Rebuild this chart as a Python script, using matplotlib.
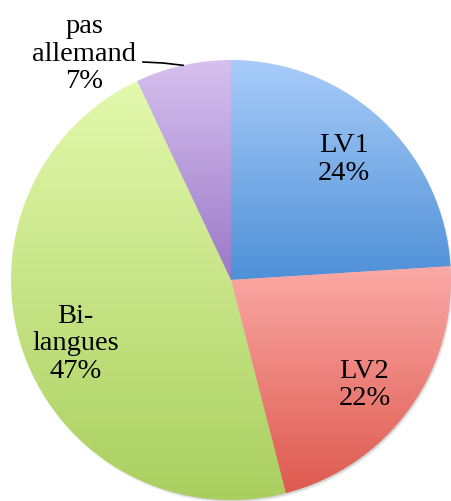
import numpy as np
import matplotlib.pyplot as plt
from matplotlib.colors import to_rgb
from matplotlib.patches import Circle

# data
categories = ['LV1', 'LV2', 'Bi-\nlangues', 'pas\nallemand']
values = [24, 22, 47, 7]
top_colors = ['#a8ccf9', '#fba9a6', '#e3f9ad', '#d7c1ef']
bottom_colors = ['#4f90d7', '#de5a4f', '#aacf5f', '#9a78c7']

W, H = 451, 501
cx, cy, R = 231, H - 280, 220
FS = 20.5

plt.rcParams['font.family'] = ['Liberation Serif', 'DejaVu Serif']

fig = plt.figure(figsize=(W / 100, H / 100), dpi=100)
ax = fig.add_axes([0, 0, 1, 1])

# soft shadow under the pie
for i in range(6):
    ax.add_patch(Circle((cx + 2, cy - 3), R - i * 0.6, color='black',
                        alpha=0.035, lw=0, zorder=0))

labels = [f'{c}\n{v}%' for c, v in zip(categories, values)]
wedges, texts = ax.pie(values, labels=labels[:3] + [''], startangle=90,
                       counterclock=False, center=(cx, cy), radius=R,
                       labeldistance=0.75, frame=True,
                       wedgeprops=dict(lw=0),
                       textprops=dict(fontsize=FS, ha='center', va='center',
                                      linespacing=1.15))
for t in texts:
    t.set_ha('center')
    t.set_multialignment('center')
    t.set_zorder(3)

# labels of the lower slices sit a bit lower in the original
for t in texts[1:3]:
    x, y = t.get_position()
    t.set_position((x, y - 8))

# vertical gradient per slice
for w, c_top, c_bot in zip(wedges, top_colors, bottom_colors):
    ext = w.get_path().get_extents()
    n = 256
    t = np.linspace(0, 1, n)[:, None]
    grad = (1 - t) * np.array(to_rgb(c_bot)) + t * np.array(to_rgb(c_top))
    img = ax.imshow(grad[:, None, :], extent=(ext.x0, ext.x1, ext.y0, ext.y1),
                    origin='lower', aspect='auto', zorder=1, interpolation='bilinear')
    img.set_clip_path(w)
    w.set_facecolor('none')

# outside label for the small slice with a leader line
w = wedges[3]
mid = np.deg2rad((w.theta1 + w.theta2) / 2)
ex, ey = cx + R * np.cos(mid), cy + R * np.sin(mid)
ax.text(84, H - 54, labels[3], fontsize=FS, ha='center', va='center',
        multialignment='center', linespacing=1.15, zorder=3)
ax.plot([143, 163, ex], [H - 62, H - 63, ey], color='black', lw=1.2, zorder=3)

ax.set_xlim(0, W)
ax.set_ylim(0, H)
ax.set_aspect('equal')
ax.axis('off')

fig.savefig('out.png', dpi=100)
